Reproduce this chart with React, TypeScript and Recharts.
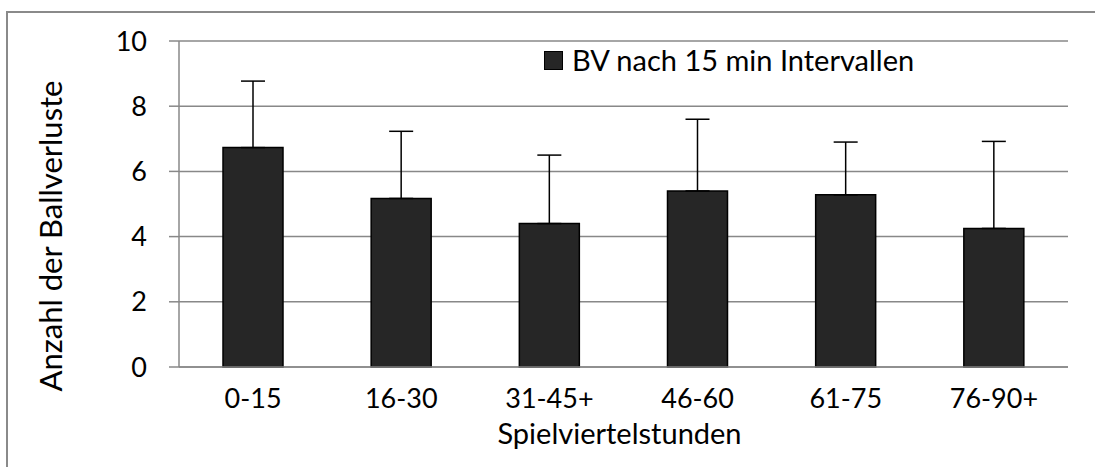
import React from 'react';
import { BarChart, Bar, XAxis, YAxis, CartesianGrid, ErrorBar, Legend } from 'recharts';

const categories = ['0-15', '16-30', '31-45+', '46-60', '61-75', '76-90+'];
const meanValues = [6.73, 5.17, 4.4, 5.4, 5.28, 4.25];
const sdValues = [2.04, 2.06, 2.1, 2.2, 1.62, 2.67];
const yTicks = [0, 2, 4, 6, 8, 10];

const seriesName = 'BV nach 15 min Intervallen';
const xTitle = 'Spielviertelstunden';
const yTitle = 'Anzahl der Ballverluste';

const data = categories.map((c, i) => ({ cat: c, value: meanValues[i], err: [0, sdValues[i]] }));

const FONT = 'Lato, "Noto Sans", sans-serif';
const GRID = '#888888';

const LegendContent = () => (
  <div style={{ display: 'flex', alignItems: 'center', fontFamily: FONT, fontSize: 29, color: '#000', whiteSpace: 'nowrap', lineHeight: '34px' }}>
    <div style={{ width: 17, height: 17, background: '#262626', border: '1px solid #000', marginRight: 9 }} />
    <span>{seriesName}</span>
  </div>
);

const YLabel = () => {
  const cx = 50;
  const cy = 236;
  return (
    <text x={cx} y={cy} transform={`rotate(-90, ${cx}, ${cy})`} textAnchor="middle" dominantBaseline="central" fontFamily={FONT} fontSize={31} fill="#000">
      {yTitle}
    </text>
  );
};

const XLabel = (props: any) => {
  const { viewBox } = props;
  const cx = viewBox.x + viewBox.width / 2;
  return (
    <text x={cx - 4} y={444} textAnchor="middle" fontFamily={FONT} fontSize={29} fill="#000">
      {xTitle}
    </text>
  );
};

export default function App() {
  return (
    <div style={{ position: 'absolute', left: 0, top: 0, width: 1095, height: 467, overflow: 'hidden', background: '#fff' }}>
      <div style={{ position: 'absolute', left: 6, top: 11, width: 1200, height: 600, border: '2px solid #8a8a8a' }} />
      <BarChart
        width={1095}
        height={467}
        data={data}
        margin={{ top: 41, right: 27, left: 0, bottom: 0 }}
        style={{ position: 'absolute', left: 0, top: 0 }}
      >
        <CartesianGrid vertical={false} stroke={GRID} strokeWidth={1.5} />
        <XAxis
          dataKey="cat"
          height={100}
          tickLine={false}
          axisLine={{ stroke: GRID, strokeWidth: 1.5 }}
          tick={{ fontFamily: FONT, fontSize: 27, fill: '#000' }}
          tickMargin={16}
          interval={0}
          label={<XLabel />}
        />
        <YAxis
          width={179}
          domain={[0, 10]}
          ticks={yTicks}
          tickSize={10}
          tickMargin={22}
          tickLine={{ stroke: GRID, strokeWidth: 1.5 }}
          axisLine={{ stroke: GRID, strokeWidth: 1.5 }}
          tick={{ fontFamily: FONT, fontSize: 27, fill: '#000' }}
          label={<YLabel />}
        />
        <Legend
          layout="horizontal"
          verticalAlign="middle"
          align="center"
          content={<LegendContent />}
          wrapperStyle={{ position: 'absolute', top: 43, left: 544, width: 'auto' }}
        />
        <Bar dataKey="value" name={seriesName} fill="#262626" stroke="#000" strokeWidth={1.5} barSize={60} isAnimationActive={false}>
          <ErrorBar dataKey="err" direction="y" width={12} stroke="#000" strokeWidth={1.5} isAnimationActive={false} />
        </Bar>
      </BarChart>
    </div>
  );
}
